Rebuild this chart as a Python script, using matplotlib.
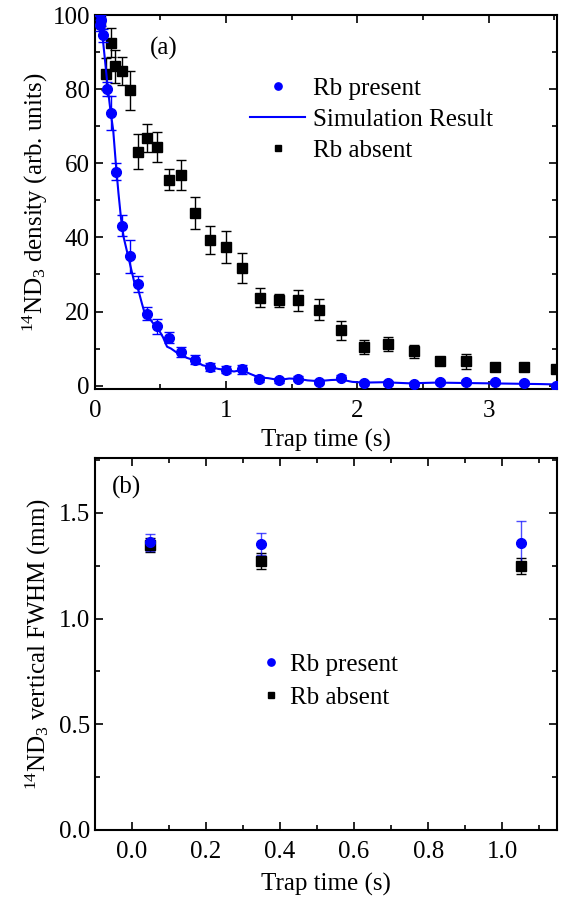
import matplotlib
matplotlib.use('Agg')
import matplotlib.pyplot as plt
from matplotlib.ticker import MultipleLocator

plt.rcParams['font.family'] = ['Liberation Serif', 'DejaVu Serif']
plt.rcParams['mathtext.fontset'] = 'custom'
plt.rcParams['mathtext.rm'] = 'Liberation Serif'
plt.rcParams['mathtext.default'] = 'regular'
plt.rcParams['font.size'] = 18

# (a) Rb present
t_rb = [0.043, 0.048, 0.062, 0.092, 0.125, 0.163, 0.21, 0.265, 0.33, 0.40, 0.476,
        0.565, 0.66, 0.76, 0.875, 1.0, 1.12, 1.25, 1.40, 1.55, 1.71, 1.875, 2.05,
        2.23, 2.43, 2.63, 2.83, 3.05, 3.27, 3.51]
n_rb = [97.3, 98.6, 94.6, 80.2, 73.6, 57.7, 43.2, 34.9, 27.5, 19.4, 16.0,
        12.9, 9.0, 7.0, 5.0, 4.3, 4.4, 1.8, 1.4, 1.9, 0.9, 2.1, 0.6,
        0.6, 0.4, 0.9, 0.9, 0.9, 0.6, 0.0]
e_rb = [1.5, 1.5, 1.8, 1.9, 4.6, 2.3, 2.9, 4.4, 2.2, 1.8, 2.1,
        1.5, 1.3, 1.2, 1.0, 1.0, 1.2, 0.8, 0.7, 0.7, 0.6, 0.7, 0.5,
        0.5, 0.5, 0.5, 0.5, 0.5, 0.5, 0.5]

# (a) Rb absent
t_abs = [0.04, 0.086, 0.12, 0.157, 0.206, 0.265, 0.33, 0.40, 0.476, 0.565, 0.66,
         0.76, 0.88, 1.0, 1.12, 1.257, 1.40, 1.55, 1.71, 1.875, 2.05, 2.23,
         2.43, 2.63, 2.83, 3.05, 3.27, 3.51]
n_abs = [98.5, 84.2, 92.6, 86.2, 85.0, 79.7, 63.2, 66.9, 64.4, 55.6, 56.9,
         46.6, 39.2, 37.4, 31.7, 23.7, 23.0, 23.0, 20.5, 14.9, 10.5, 11.2,
         9.2, 6.6, 6.5, 5.1, 4.9, 4.5]
e_abs = [2.0, 4.3, 3.9, 4.5, 3.8, 5.3, 4.7, 3.8, 4.0, 2.8, 4.0,
         4.2, 3.8, 4.4, 4.1, 2.6, 1.8, 2.8, 2.9, 2.6, 1.9, 1.8,
         1.8, 1.1, 1.9, 1.0, 1.0, 1.0]

# (a) simulation curve
t_sim = [0.0, 0.02, 0.04, 0.06, 0.08, 0.10, 0.12, 0.14, 0.16, 0.18, 0.20, 0.22,
         0.24, 0.26, 0.28, 0.30, 0.33, 0.36, 0.38, 0.40, 0.44, 0.48, 0.52, 0.55,
         0.58, 0.62, 0.66, 0.70, 0.76, 0.82, 0.88, 0.94, 1.00, 1.06, 1.12, 1.18,
         1.25, 1.32, 1.40, 1.48, 1.55, 1.62, 1.70, 1.80, 1.88, 1.96, 2.05, 2.20,
         2.40, 2.60, 2.80, 3.00, 3.20, 3.40, 3.52]
n_sim = [100.0, 99.5, 98.0, 94.0, 87.0, 80.0, 74.0, 69.0, 60.0, 52.0, 45.0, 40.0,
         37.0, 34.0, 31.0, 28.0, 26.0, 22.0, 19.5, 19.0, 17.0, 15.5, 13.0, 10.5,
         10.0, 9.0, 8.5, 7.5, 6.8, 5.5, 5.0, 4.5, 4.2, 3.8, 4.2, 3.2,
         2.2, 2.0, 1.5, 1.9, 1.8, 1.4, 1.2, 1.5, 1.6, 1.0, 0.8, 0.9,
         0.6, 0.8, 0.7, 0.6, 0.5, 0.4, 0.3]

# (b) vertical FWHM
t_w = [0.05, 0.35, 1.05]
w_rb = [1.362, 1.353, 1.356]
we_rb = [0.04, 0.05, 0.105]
w_abs = [1.348, 1.274, 1.249]
we_abs = [0.035, 0.038, 0.037]

blue = '#0000ff'

fig = plt.figure(figsize=(5.61, 8.99), dpi=100)
ax1 = fig.add_axes([0.169, 0.567, 0.824, 0.416])
ax2 = fig.add_axes([0.169, 0.0768, 0.824, 0.4137])

ax1.errorbar(t_abs, n_abs, yerr=e_abs, fmt='none', ecolor='black', elinewidth=1, capsize=3.5)
ax1.plot(t_abs, n_abs, 's', color='black', ms=6.5, label='Rb absent', zorder=3)
ax1.plot(t_sim, n_sim, '-', color=blue, lw=1.5, label='Simulation Result', zorder=4)
ax1.errorbar(t_rb, n_rb, yerr=e_rb, fmt='none', ecolor=blue, elinewidth=1, capsize=3.5, zorder=4)
ax1.plot(t_rb, n_rb, 'o', color=blue, ms=7, label='Rb present', zorder=5)

h, l = ax1.get_legend_handles_labels()
order = [2, 1, 0]
ax1.legend([h[i] for i in order], [l[i] for i in order], loc='upper right',
           bbox_to_anchor=(0.91, 0.895), frameon=False, fontsize=18, markerscale=0.75,
           handlelength=2.2, handletextpad=0.3, labelspacing=0.35)

ax1.set_xlim(0, 3.52)
ax1.set_ylim(-1, 100)
ax1.xaxis.set_major_locator(MultipleLocator(1))
ax1.xaxis.set_minor_locator(MultipleLocator(0.5))
ax1.yaxis.set_major_locator(MultipleLocator(20))
ax1.yaxis.set_minor_locator(MultipleLocator(10))
ax1.set_xlabel('Trap time (s)', labelpad=5)
ax1.set_ylabel(r'$^{14}$ND$_3$ density (arb. units)', labelpad=2)
ax1.text(0.12, 0.895, '(a)', transform=ax1.transAxes, fontsize=18)

ax2.errorbar(t_w, w_abs, yerr=we_abs, fmt='none', ecolor='black', elinewidth=1, capsize=3.5)
ax2.plot(t_w, w_abs, 's', color='black', ms=6.5, label='Rb absent', zorder=3)
ax2.errorbar(t_w, w_rb, yerr=we_rb, fmt='none', ecolor=blue, elinewidth=1, capsize=3.5, alpha=0.7)
ax2.plot(t_w, w_rb, 'o', color=blue, ms=7, label='Rb present', zorder=4)
h, l = ax2.get_legend_handles_labels()
ax2.legend([h[1], h[0]], [l[1], l[0]], loc='center left', bbox_to_anchor=(0.3, 0.40),
           frameon=False, fontsize=18, markerscale=0.75, handlelength=1.2,
           handletextpad=0.15, labelspacing=0.4)

ax2.set_xlim(-0.1, 1.148)
ax2.set_ylim(0, 1.76)
ax2.xaxis.set_major_locator(MultipleLocator(0.2))
ax2.xaxis.set_minor_locator(MultipleLocator(0.1))
ax2.yaxis.set_major_locator(MultipleLocator(0.5))
ax2.yaxis.set_minor_locator(MultipleLocator(0.25))
ax2.xaxis.set_major_formatter(plt.FuncFormatter(lambda v, p: f'{v:.1f}'))
ax2.yaxis.set_major_formatter(plt.FuncFormatter(lambda v, p: f'{v:.1f}'))
ax2.set_xlabel('Trap time (s)', labelpad=7)
ax2.set_ylabel(r'$^{14}$ND$_3$ vertical FWHM (mm)', labelpad=4)
ax2.text(0.037, 0.92, '(b)', transform=ax2.transAxes, fontsize=18, va='center')

for ax in (ax1, ax2):
    for s in ax.spines.values():
        s.set_linewidth(1.5)
    ax.tick_params(which='both', direction='in', top=True, right=True, width=1.2)
    ax.tick_params(which='major', length=6, labelsize=18)
    ax.tick_params(which='minor', length=3.5)
    ax.tick_params(axis='x', which='major', pad=8)

fig.savefig('out.png', dpi=100)
